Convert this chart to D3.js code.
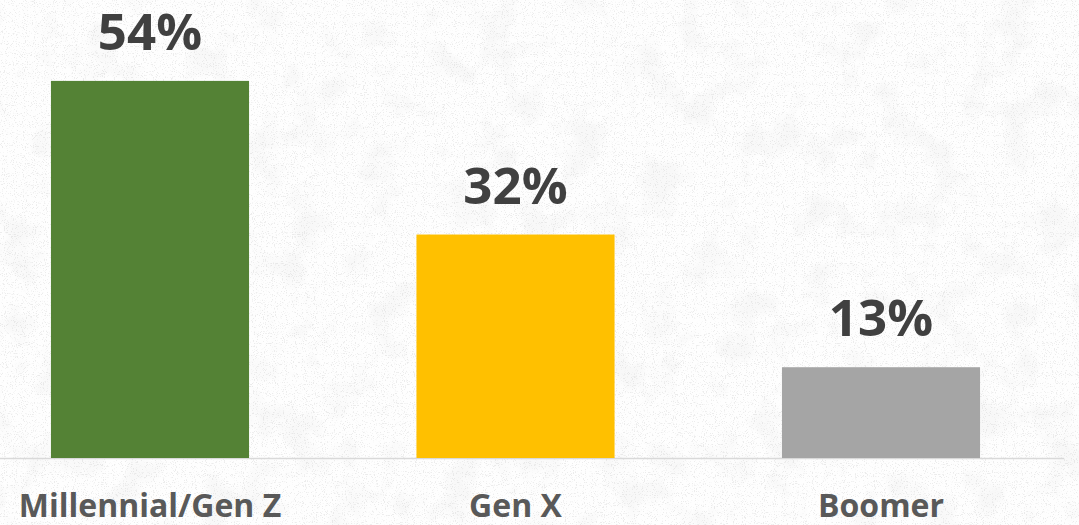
<!DOCTYPE html>
<html>
<head>
<meta charset="utf-8">
<script src="https://cdn.jsdelivr.net/npm/d3@7"></script>
<style>
  html, body { margin: 0; padding: 0; background: #fdfdfd; }
  svg { display: block; }
</style>
</head>
<body>
<svg id="chart" width="1079" height="525"></svg>
<script>
const categories = ["Millennial/Gen Z", "Gen X", "Boomer"];
const values = [54, 32, 13];
const colors = ["#548235", "#FFC000", "#A5A5A5"];

const W = 1079, H = 525;
const svg = d3.select("#chart");

// paper texture background
const defs = svg.append("defs");
const f = defs.append("filter").attr("id", "paper").attr("x", 0).attr("y", 0).attr("width", "100%").attr("height", "100%");
f.append("feTurbulence").attr("type", "fractalNoise").attr("baseFrequency", 0.9).attr("numOctaves", 2).attr("seed", 7).attr("result", "n");
f.append("feColorMatrix").attr("in", "n").attr("type", "matrix")
  .attr("values", "0 0 0 0 0.55  0 0 0 0 0.55  0 0 0 0 0.55  0 0 0 -8 3.3")
  .attr("result", "spk");
f.append("feComposite").attr("in", "spk").attr("in2", "SourceGraphic").attr("operator", "over");
const f2 = defs.append("filter").attr("id", "blotch").attr("x", 0).attr("y", 0).attr("width", "100%").attr("height", "100%");
f2.append("feTurbulence").attr("type", "fractalNoise").attr("baseFrequency", 0.025).attr("numOctaves", 4).attr("seed", 3).attr("result", "n");
f2.append("feColorMatrix").attr("in", "n").attr("type", "matrix")
  .attr("values", "0 0 0 0 0.85  0 0 0 0 0.85  0 0 0 0 0.85  0 0 0 -4 2.0");

svg.append("rect").attr("width", W).attr("height", H).attr("fill", "#fefefe");
svg.append("rect").attr("width", W).attr("height", H).attr("fill", "#fff").attr("filter", "url(#blotch)").attr("opacity", 0.35);
svg.append("rect").attr("width", W).attr("height", H).attr("fill", "none").attr("filter", "url(#paper)").attr("opacity", 0.3);

const x = d3.scaleBand()
  .domain(categories)
  .range([-32.75, 1063.75])
  .paddingInner(0.458)
  .paddingOuter(0.229);

const y = d3.scaleLinear().domain([0, 60]).range([458, 39]);

// baseline axis
svg.append("line")
  .attr("x1", 0).attr("x2", 1064)
  .attr("y1", y(0) + 0.5).attr("y2", y(0) + 0.5)
  .attr("stroke", "#D9D9D9").attr("stroke-width", 1.5);

svg.selectAll("rect.bar")
  .data(values)
  .join("rect")
  .attr("class", "bar")
  .attr("x", (d, i) => x(categories[i]))
  .attr("width", x.bandwidth())
  .attr("y", d => y(d))
  .attr("height", d => y(0) - y(d))
  .attr("fill", (d, i) => colors[i]);

svg.selectAll("text.val")
  .data(values)
  .join("text")
  .attr("class", "val")
  .attr("x", (d, i) => x(categories[i]) + x.bandwidth() / 2)
  .attr("y", d => y(d) - 31)
  .attr("text-anchor", "middle")
  .attr("font-family", "'Open Sans', sans-serif")
  .attr("font-weight", 700)
  .attr("font-size", 51)
  .attr("fill", "#404040")
  .text(d => d + "%");

svg.selectAll("text.cat")
  .data(categories)
  .join("text")
  .attr("class", "cat")
  .attr("x", d => x(d) + x.bandwidth() / 2)
  .attr("y", y(0) + 59)
  .attr("text-anchor", "middle")
  .attr("font-family", "'Open Sans', sans-serif")
  .attr("font-weight", 700)
  .attr("font-size", 32)
  .attr("fill", "#595959")
  .text(d => d);
</script>
</body>
</html>
